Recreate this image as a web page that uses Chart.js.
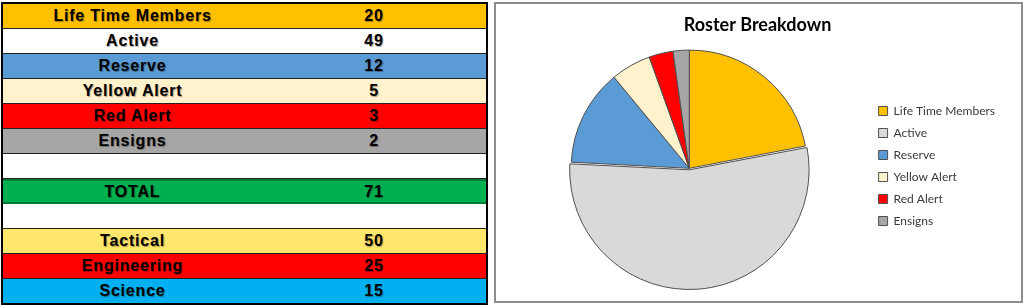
<!DOCTYPE html>
<html>
<head>
<meta charset="utf-8">
<script src="https://cdn.jsdelivr.net/npm/chart.js@4"></script>
<style>
  html, body { margin: 0; padding: 0; background: #fff; }
  body { width: 1024px; height: 308px; position: relative; overflow: hidden; }
  #roster {
    position: absolute; left: 1px; top: 2px; width: 483px;
    border: 2px solid #000;
    font-family: "Liberation Sans", Arial, sans-serif;
    font-weight: bold; font-size: 16px; letter-spacing: 0.8px;
    color: #000; text-shadow: 1px 1px 1px rgba(0,0,0,0.35);
  }
  .row { display: flex; height: 24px; line-height: 24px; border-bottom: 1px solid #222; }
  .row:last-child { border-bottom: none; height: 24px; }
  .row div { text-align: center; }
  .c1 { width: 259px; }
  .c2 { width: 224px; }
  #box {
    position: absolute; left: 494px; top: 2px; width: 525px; height: 297px;
    border: 2px solid #8c8c8c;
  }
  #box canvas { display: block; }
</style>
</head>
<body>
<div id="roster"></div>
<div id="box"><canvas id="rosterChart" width="525" height="297"></canvas></div>
<script>
// left table
const tableLabels = ['Life Time Members', 'Active', 'Reserve', 'Yellow Alert', 'Red Alert', 'Ensigns', '', 'TOTAL', '', 'Tactical', 'Engineering', 'Science'];
const tableValues = ['20', '49', '12', '5', '3', '2', '', '71', '', '50', '25', '15'];
const tableColors = ['#ffc000', '#ffffff', '#5b9bd5', '#fff2cc', '#ff0000', '#a6a6a6', '#ffffff', '#00b050', '#ffffff', '#ffe66d', '#ff0000', '#00b0f0'];

// pie
const categories = ['Life Time Members', 'Active', 'Reserve', 'Yellow Alert', 'Red Alert', 'Ensigns'];
const members = [20, 49, 12, 5, 3, 2];
const sliceColors = ['#ffc000', '#d9d9d9', '#5b9bd5', '#fff2cc', '#ff0000', '#a6a6a6'];
const sliceOffsets = [0, 6, 0, 0, 0, 0];

const roster = document.getElementById('roster');
tableLabels.forEach((label, i) => {
    const row = document.createElement('div');
    row.className = 'row';
    row.style.background = tableColors[i];
    if (label === 'TOTAL') {
        row.style.borderTop = '2px solid #007a37';
        row.style.borderBottom = '2px solid #007a37';
        row.style.height = '21px';
        row.style.lineHeight = '21px';
    }
    row.innerHTML = '<div class="c1">' + label + '</div><div class="c2">' + tableValues[i] + '</div>';
    roster.appendChild(row);
});

const ctx = document.getElementById('rosterChart');

new Chart(ctx, {
    type: 'pie',
    data: {
        labels: categories,
        datasets: [{
            data: members,
            backgroundColor: sliceColors,
            borderColor: '#505050',
            borderWidth: 1,
            offset: sliceOffsets,
        }]
    },
    options: {
        responsive: false,
        animation: false,
        layout: {
            padding: { left: 14, right: 16, top: 0, bottom: 11 }
        },
        plugins: {
            title: {
                display: true,
                text: 'Roster Breakdown',
                color: '#000',
                font: { family: 'Lato', size: 18, weight: 'bold' },
                padding: { top: 10, bottom: 11 }
            },
            legend: {
                position: 'right',
                // empty legend title only pushes the items down to where they sit in the original
                title: { display: true, text: '', font: { size: 10 }, padding: { top: 26, bottom: 0 } },
                labels: {
                    boxWidth: 9,
                    boxHeight: 9,
                    padding: 10,
                    color: '#3a3a3a',
                    font: { family: 'Lato', size: 12 }
                }
            },
            tooltip: { enabled: false }
        }
    }
});
</script>
</body>
</html>
